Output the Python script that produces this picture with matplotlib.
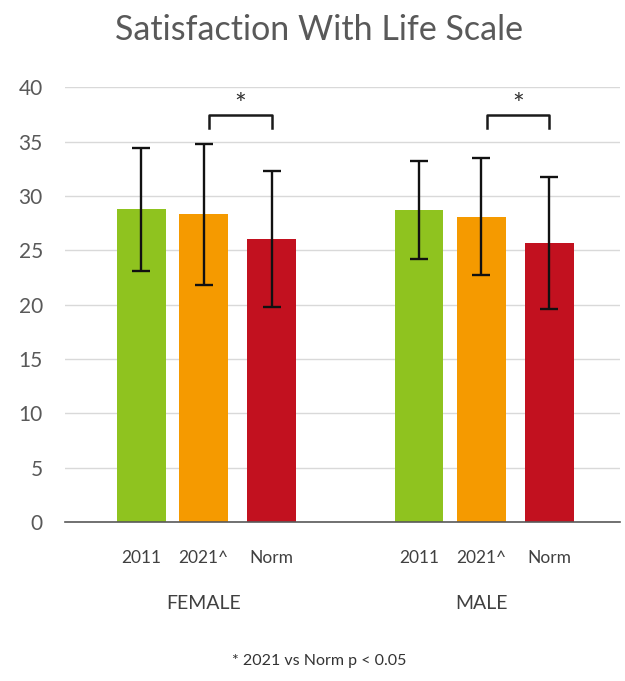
"""
Satisfaction With Life Scale - grouped bars with SD error bars.
"""
import matplotlib
matplotlib.use('Agg')
import matplotlib.pyplot as plt
import numpy as np

plt.rcParams['font.family'] = ['Lato', 'DejaVu Sans']

# data
groups = ['FEMALE', 'MALE']
series = ['2011', '2021^', 'Norm']
means = [
    [28.75, 28.3, 26.0],   # female
    [28.7, 28.1, 25.65],   # male
]
sds = [
    [5.65, 6.5, 6.25],
    [4.5, 5.4, 6.05],
]
colors = ['#8fc31f', '#f59a00', '#c2111f']

fig = plt.figure(figsize=(6.25, 6.81), dpi=100, facecolor='white')
ax = fig.add_axes([0.104, 0.2335, 0.888, 0.6385])

offsets = [-0.225, 0.0, 0.245]
width = 0.175
tick_pos, tick_lab = [], []
for gi, g in enumerate(groups):
    for si, s in enumerate(series):
        x = gi + offsets[si]
        ax.bar(x, means[gi][si], width, color=colors[si], zorder=2)
        ax.errorbar(x, means[gi][si], yerr=sds[gi][si], fmt='none',
                    ecolor='#111111', elinewidth=1.7, capsize=6.5,
                    capthick=1.7, zorder=3)
        tick_pos.append(x)
        tick_lab.append(s)
    # significance bracket 2021 vs Norm
    x1 = gi + offsets[1] + 0.02
    x2 = gi + offsets[2]
    ax.plot([x1, x1, x2, x2], [36.2, 37.4, 37.4, 36.2], color='#1a1a1a',
            lw=1.8, clip_on=False, zorder=3)
    ax.text((x1 + x2) / 2, 38.3, '*', ha='center', va='center',
            fontsize=20, color='#333333')
    ax.text(gi, -7.5, g, ha='center', va='center', fontsize=14,
            color='#404040')

ax.set_xlim(-0.5, 1.5)
ax.set_ylim(0, 40)
ax.set_yticks(np.arange(0, 41, 5))
ax.set_xticks(tick_pos)
ax.set_xticklabels(tick_lab)
ax.tick_params(axis='y', length=0, labelsize=15, labelcolor='#595959', pad=16)
ax.tick_params(axis='x', length=0, labelsize=12.5, labelcolor='#404040', pad=20)
ax.yaxis.grid(True, color='#d9d9d9', lw=1, zorder=0)
ax.set_axisbelow(True)
for sp in ['top', 'right', 'left']:
    ax.spines[sp].set_visible(False)
ax.spines['bottom'].set_color('#595959')
ax.spines['bottom'].set_linewidth(1.2)

fig.text(0.51, 0.956, 'Satisfaction With Life Scale', ha='center',
         va='center', fontsize=24.5, color='#595959')
fig.text(0.51, 0.029, '* 2021 vs Norm p < 0.05', ha='center', va='center',
         fontsize=11.5, color='#333333')

plt.savefig('out.png', dpi=100, facecolor='white')
